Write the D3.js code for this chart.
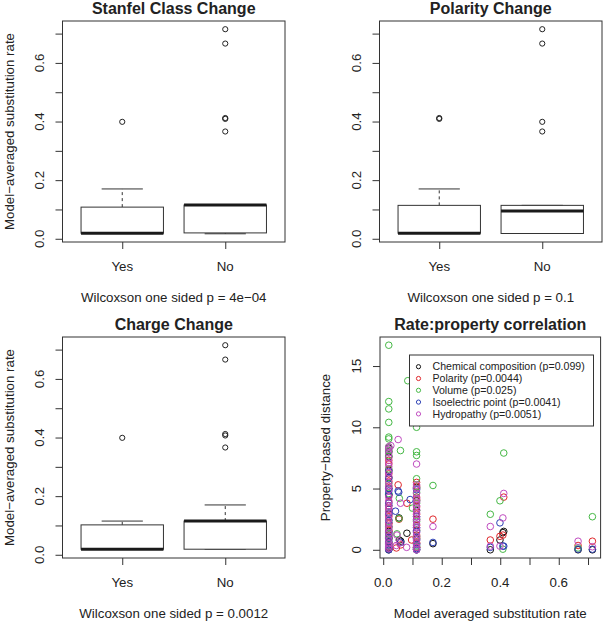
<!DOCTYPE html>
<html>
<head>
<meta charset="utf-8">
<script src="https://cdn.jsdelivr.net/npm/d3@7"></script>
<style>
  body { margin: 0; background: #fff; }
  svg { display: block; font-family: "Liberation Sans", Arial, sans-serif; }
</style>
</head>
<body>
<div id="chart"></div>
<script>
// ---- box plot data: [lower whisker, Q1, median, Q3, upper whisker]
const boxCategories = ["Yes", "No"];
const boxTitles = ["Stanfel Class Change", "Polarity Change", "Charge Change"];
const boxSubtitles = ["Wilcoxson one sided p = 4e\u221204", "Wilcoxson one sided p = 0.1", "Wilcoxson one sided p = 0.0012"];
const boxTicks = [0, 0.1, 0.2, 0.3, 0.4, 0.5, 0.6, 0.7];
const boxTickLabels = ["0.0", "", "0.2", "", "0.4", "", "0.6", ""];

const stanfelYes = [0.019, 0.019, 0.019, 0.108, 0.170];
const stanfelNo = [0.017, 0.020, 0.115, 0.115, 0.115];
const polarityYes = [0.019, 0.019, 0.019, 0.114, 0.170];
const polarityNo = [0.018, 0.018, 0.095, 0.114, 0.114];
const chargeYes = [0.019, 0.019, 0.019, 0.102, 0.115];
const chargeNo = [0.019, 0.019, 0.115, 0.115, 0.170];

const stanfelYesOut = [0.399];
const stanfelNoOut = [0.366, 0.409, 0.412, 0.666, 0.715];
const polarityYesOut = [0.409, 0.412];
const polarityNoOut = [0.366, 0.399, 0.666, 0.715];
const chargeYesOut = [0.399];
const chargeNoOut = [0.366, 0.407, 0.412, 0.666, 0.715];

// ---- scatter data: [rate, property distance]
const chemPts = [
  [0.019, 8.3], [0.019, 8.0], [0.019, 7.6], [0.019, 6.5], [0.019, 5.9], [0.019, 5.0], [0.019, 4.5],
  [0.019, 3.6], [0.019, 2.9], [0.019, 2.2], [0.019, 1.9], [0.019, 1.5], [0.019, 1.2], [0.019, 0.9],
  [0.019, 0.6], [0.019, 0.3], [0.019, 0.1], [0.019, 0.0],
  [0.054, 2.6], [0.081, 1.35], [0.055, 0.8], [0.06, 0.7],
  [0.114, 5.1], [0.114, 4.0], [0.114, 3.2], [0.114, 2.5], [0.114, 1.6], [0.114, 0.9], [0.114, 0.5],
  [0.114, 0.2], [0.114, 0.0],
  [0.17, 0.5], [0.366, 0.0], [0.399, 0.8], [0.409, 1.4], [0.412, 1.5], [0.666, 0.0], [0.715, 0.0]
];
const polarPts = [
  [0.019, 7.3], [0.019, 7.0], [0.019, 6.2], [0.019, 5.6], [0.019, 5.2], [0.019, 4.4], [0.019, 3.9],
  [0.019, 3.3], [0.019, 2.7], [0.019, 2.1], [0.019, 1.6], [0.019, 1.0], [0.019, 0.5], [0.019, 0.2],
  [0.051, 5.3], [0.054, 2.5], [0.045, 0.15], [0.081, 3.8], [0.097, 0.8], [0.06, 0.4],
  [0.114, 5.5], [0.114, 5.2], [0.114, 4.3], [0.114, 4.1], [0.114, 3.5], [0.114, 2.9], [0.114, 2.0],
  [0.114, 1.2], [0.114, 1.0], [0.114, 0.6], [0.114, 0.2],
  [0.17, 2.5], [0.366, 0.8], [0.399, 1.1], [0.409, 1.2], [0.412, 4.3], [0.666, 0.35], [0.715, 0.7]
];
const volumePts = [
  [0.019, 16.7], [0.019, 12.1], [0.019, 11.5], [0.019, 10.4], [0.019, 9.2], [0.019, 9.05], [0.019, 8.4],
  [0.019, 8.1], [0.019, 7.7], [0.019, 6.6], [0.019, 5.4], [0.019, 4.6], [0.019, 3.1], [0.019, 2.4],
  [0.019, 1.8], [0.019, 1.3], [0.019, 0.9], [0.019, 0.4],
  [0.059, 8.1], [0.084, 13.8], [0.055, 4.2], [0.054, 2.55], [0.047, 1.3], [0.1, 3.4],
  [0.114, 10.0], [0.114, 8.0], [0.114, 7.7], [0.114, 5.8], [0.114, 5.0], [0.114, 4.7], [0.114, 3.8],
  [0.114, 2.3], [0.114, 1.1], [0.114, 0.3],
  [0.17, 5.25], [0.366, 2.9], [0.399, 4.0], [0.409, 0.05], [0.412, 7.9], [0.666, 0.15], [0.715, 2.7]
];
const isoPts = [
  [0.019, 6.4], [0.019, 5.8], [0.019, 5.0], [0.019, 4.8], [0.019, 4.5], [0.019, 3.8], [0.019, 3.0],
  [0.019, 2.4], [0.019, 1.4], [0.019, 1.0], [0.019, 0.7], [0.019, 0.4], [0.019, 0.15], [0.019, 0.0],
  [0.051, 4.8], [0.053, 4.7], [0.042, 3.15], [0.092, 4.1], [0.06, 0.6],
  [0.114, 4.9], [0.114, 2.7], [0.114, 1.8], [0.114, 1.5], [0.114, 0.8], [0.114, 0.4], [0.114, 0.1],
  [0.114, 0.0],
  [0.17, 0.6], [0.366, 0.2], [0.399, 2.2], [0.409, 0.3], [0.412, 0.3], [0.666, 0.05], [0.715, 0.05]
];
const hydroPts = [
  [0.019, 8.4], [0.019, 8.2], [0.019, 7.9], [0.019, 7.5], [0.019, 7.1], [0.019, 6.8], [0.019, 6.3],
  [0.019, 6.0], [0.019, 5.5], [0.019, 5.2], [0.019, 4.9], [0.019, 4.3], [0.019, 4.0], [0.019, 3.6],
  [0.019, 3.4], [0.019, 3.1], [0.019, 2.8], [0.019, 2.5], [0.019, 2.2], [0.019, 1.9], [0.019, 1.7],
  [0.019, 1.4], [0.019, 1.1], [0.019, 0.8], [0.019, 0.5], [0.019, 0.3], [0.019, 0.1],
  [0.051, 9.0], [0.026, 8.5], [0.059, 3.8], [0.047, 1.2], [0.08, 0.2], [0.055, 0.55], [0.045, 0.35],
  [0.114, 7.0], [0.114, 5.3], [0.114, 5.0], [0.114, 4.6], [0.114, 4.2], [0.114, 3.9], [0.114, 3.6],
  [0.114, 3.3], [0.114, 3.0], [0.114, 2.7], [0.114, 2.4], [0.114, 2.1], [0.114, 1.8], [0.114, 1.4],
  [0.114, 1.1], [0.114, 0.8], [0.114, 0.5], [0.114, 0.2], [0.114, 0.0],
  [0.17, 1.9], [0.366, 1.9], [0.366, 0.3], [0.399, 0.3], [0.409, 2.6], [0.412, 4.6], [0.666, 0.7], [0.715, 0.25]
];
const legendLabels = ["Chemical composition (p=0.099)", "Polarity (p=0.0044)", "Volume (p=0.025)",
  "Isoelectric point (p=0.0041)", "Hydropathy (p=0.0051)"];
const seriesColors = ["#111111", "#e0282c", "#45b845", "#2c40b4", "#c04cc0"];
const scatterXTicks = [0, 0.1, 0.2, 0.3, 0.4, 0.5, 0.6, 0.7];
const scatterXLabels = ["0.0", "", "0.2", "", "0.4", "", "0.6", ""];
const scatterYTicks = [0, 5, 10, 15];

// ---- layout
var W = 604, H = 624;
var ink = "#222";
var axisFont = "13.3px";

var svg = d3.select("#chart").append("svg")
  .attr("width", W).attr("height", H);

function frame(g, x0, x1, y0, y1) {
  g.append("rect")
    .attr("x", x0).attr("y", y0)
    .attr("width", x1 - x0).attr("height", y1 - y0)
    .attr("fill", "none").attr("stroke", "#333").attr("stroke-width", 1);
}

function leftTicks(g, y, x0, ticks, labels) {
  g.append("g")
    .attr("transform", "translate(" + x0 + ",0)")
    .call(d3.axisLeft(y).tickValues(ticks).tickSize(7).tickFormat(""))
    .call(a => a.select(".domain").remove())
    .selectAll("line").attr("stroke", "#333");
  g.selectAll(null)
    .data(ticks.map((t, i) => ({ t: t, l: labels[i] })).filter(d => d.l !== ""))
    .enter().append("text")
    .attr("transform", d => "translate(" + (x0 - 23.5) + "," + y(d.t) + ") rotate(-90)")
    .attr("dy", "0.35em")
    .attr("text-anchor", "middle")
    .style("font-size", axisFont)
    .attr("fill", ink)
    .text(d => d.l);
}

function bottomTicks(g, x, y1, ticks, labels) {
  g.append("g")
    .attr("transform", "translate(0," + y1 + ")")
    .call(d3.axisBottom(x).tickValues(ticks).tickSize(7).tickFormat(""))
    .call(a => a.select(".domain").remove())
    .selectAll("line").attr("stroke", "#333");
  g.selectAll(null)
    .data(ticks.map((t, i) => ({ t: t, l: labels[i] })).filter(d => d.l !== ""))
    .enter().append("text")
    .attr("x", d => x(d.t))
    .attr("y", y1 + 24)
    .attr("dy", "0.35em")
    .attr("text-anchor", "middle")
    .style("font-size", axisFont)
    .attr("fill", ink)
    .text(d => d.l);
}

function titles(g, x0, x1, y0, y1, title, sub, ylab, ylabOffset) {
  var cx = (x0 + x1) / 2;
  g.append("text")
    .attr("x", cx).attr("y", y0 - 7)
    .attr("text-anchor", "middle")
    .style("font-size", "16px").style("font-weight", "bold")
    .attr("fill", ink)
    .text(title);
  g.append("text")
    .attr("x", cx).attr("y", y1 + 55)
    .attr("dy", "0.35em")
    .attr("text-anchor", "middle")
    .style("font-size", axisFont)
    .attr("fill", ink)
    .text(sub);
  if (ylab) {
    g.append("text")
      .attr("transform", "translate(" + (x0 - ylabOffset) + "," + ((y0 + y1) / 2) + ") rotate(-90)")
      .attr("dy", "0.35em")
      .attr("text-anchor", "middle")
      .style("font-size", axisFont)
      .attr("fill", ink)
      .text(ylab);
  }
}

function boxPanel(ox, oy, title, sub, stats, outs, showYLabel) {
  var x0 = ox + 62.5, x1 = ox + 285, y0 = oy + 21, y1 = oy + 242;
  var g = svg.append("g");
  var x = d3.scaleLinear().domain([0.42, 2.58]).range([x0, x1]);
  var y = d3.scaleLinear().domain([-0.011, 0.743]).range([y1, y0]);

  stats.forEach(function (s, i) {
    var c = i + 1;
    // whiskers
    [[s[3], s[4]], [s[1], s[0]]].forEach(function (w) {
      if (w[0] !== w[1]) {
        g.append("line")
          .attr("x1", x(c)).attr("x2", x(c))
          .attr("y1", y(w[0])).attr("y2", y(w[1]))
          .attr("stroke", "#333").attr("stroke-dasharray", "3,3");
      }
      g.append("line")
        .attr("x1", x(c - 0.2)).attr("x2", x(c + 0.2))
        .attr("y1", y(w[1])).attr("y2", y(w[1]))
        .attr("stroke", "#333");
    });
    // box
    g.append("rect")
      .attr("x", x(c - 0.4)).attr("width", x(c + 0.4) - x(c - 0.4))
      .attr("y", y(s[3])).attr("height", Math.max(0.5, y(s[1]) - y(s[3])))
      .attr("fill", "#fff").attr("stroke", "#333");
    // median
    g.append("line")
      .attr("x1", x(c - 0.4)).attr("x2", x(c + 0.4))
      .attr("y1", y(s[2])).attr("y2", y(s[2]))
      .attr("stroke", "#1a1a1a").attr("stroke-width", 3);
    // outliers
    g.selectAll(null).data(outs[i]).enter().append("circle")
      .attr("cx", x(c)).attr("cy", d => y(d)).attr("r", 2.6)
      .attr("fill", "none").attr("stroke", "#222").attr("stroke-width", 1);
  });

  frame(g, x0, x1, y0, y1);
  leftTicks(g, y, x0, boxTicks, boxTickLabels);
  bottomTicks(g, x, y1, [1, 2], boxCategories);
  titles(g, x0, x1, y0, y1, title, sub, showYLabel ? "Model\u2212averaged substitution rate" : null, 53.5);
}

boxPanel(0, 0, boxTitles[0], boxSubtitles[0], [stanfelYes, stanfelNo], [stanfelYesOut, stanfelNoOut], true);
boxPanel(317, 0, boxTitles[1], boxSubtitles[1], [polarityYes, polarityNo], [polarityYesOut, polarityNoOut], false);
boxPanel(0, 316, boxTitles[2], boxSubtitles[2], [chargeYes, chargeNo], [chargeYesOut, chargeNoOut], true);

// ---- scatter panel
(function () {
  var x0 = 380, x1 = 600.6, y0 = 337, y1 = 558;
  var g = svg.append("g");
  var x = d3.scaleLinear().domain([-0.011, 0.743]).range([x0, x1]);
  var y = d3.scaleLinear().domain([-0.67, 17.37]).range([y1, y0]);
  var series = [chemPts, polarPts, volumePts, isoPts, hydroPts];

  series.forEach(function (pts, k) {
    g.selectAll(null).data(pts).enter().append("circle")
      .attr("cx", d => x(d[0])).attr("cy", d => y(d[1])).attr("r", 3.3)
      .attr("fill", "none").attr("stroke", seriesColors[k]).attr("stroke-width", 1);
  });

  // legend
  var lg = g.append("g");
  lg.append("rect")
    .attr("x", 409.5).attr("y", 355).attr("width", 184).attr("height", 71)
    .attr("fill", "#fff").attr("stroke", "#333");
  var rows = lg.selectAll(null).data(legendLabels).enter().append("g")
    .attr("transform", (d, i) => "translate(418.5," + (366.7 + i * 11.8) + ")");
  rows.append("circle").attr("r", 2.1)
    .attr("fill", "none").attr("stroke", (d, i) => seriesColors[i]).attr("stroke-width", 1);
  rows.append("text").attr("x", 14).attr("dy", "0.35em")
    .style("font-size", "10.6px").attr("fill", ink)
    .text(d => d);

  frame(g, x0, x1, y0, y1);
  leftTicks(g, y, x0, scatterYTicks, scatterYTicks.map(String));
  bottomTicks(g, x, y1, scatterXTicks, scatterXLabels);
  titles(g, x0, x1, y0, y1, "Rate:property correlation", "Model averaged substitution rate",
    "Property\u2212based distance", 55);
})();
</script>
</body>
</html>
